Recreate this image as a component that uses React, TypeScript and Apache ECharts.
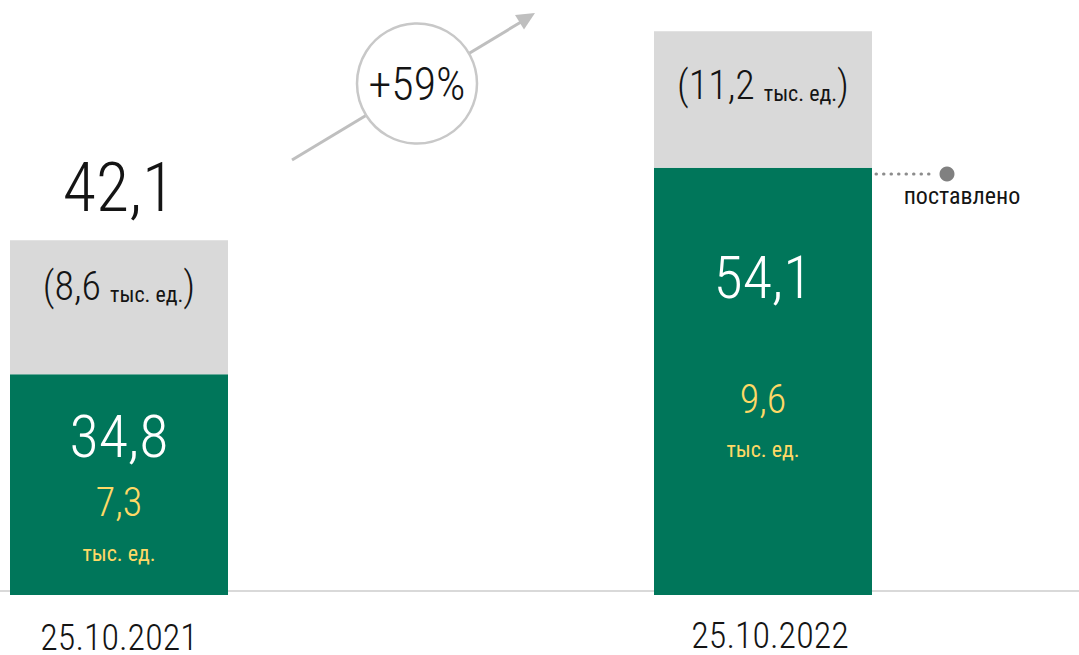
import React, { useEffect, useRef } from 'react';
import * as echarts from 'echarts';

// ---- data ----
const categories = ['25.10.2021', '25.10.2022'];
// visual bar heights (billions) – green = delivered part, gray = rest of the total
const deliveredHeight = [26.2, 50.7];
const remainingHeight = [15.9, 16.2];
// printed labels
const deliveredAmount = ['34,8', '54,1'];
const deliveredUnits = ['7,3', '9,6'];
const totalUnits = ['8,6', '11,2'];
const totalAmount = ['42,1', ''];
const growthLabel = '+59%';
const deliveredName = 'поставлено';
const unitText = 'тыс. ед.';

// ---- styles ----
const FONT = "'Roboto Condensed', 'Liberation Sans Narrow', 'DejaVu Sans Condensed', Roboto, sans-serif";
const GREEN = '#00765A';
const GRAY = '#D9D9D9';
const YELLOW = '#FFD966';
const INK = '#141414';

const greenLayout = [
  { y: 27, l1: 70, l2: 62, l3: 40 },
  { y: 18, l1: 184, l2: 60, l3: 40 },
];
const grayLayout = [
  { y: -92, l1: 80, l2: 116, va: 'top' },
  { y: 54, l1: 0, l2: 60, va: 'middle' },
];

export default function App() {
  const ref = useRef<HTMLDivElement>(null);
  useEffect(() => {
    if (!ref.current) return;
    const chart = echarts.init(ref.current, null, { renderer: 'svg' });

    const greenData = deliveredHeight.map((v, i) => {
      const L = greenLayout[i];
      return {
        value: v,
        label: {
          show: true,
          position: ['50%', L.y],
          align: 'center',
          verticalAlign: 'top',
          formatter: `{a|${deliveredAmount[i]}}\n{b|${deliveredUnits[i]}}\n{c|${unitText}}`,
          rich: {
            a: { fontFamily: FONT, fontWeight: 300, fontSize: 60, color: '#FFFFFF', lineHeight: L.l1, align: 'center', verticalAlign: 'middle' },
            b: { fontFamily: FONT, fontWeight: 300, fontSize: 40, color: YELLOW, lineHeight: L.l2, align: 'center', verticalAlign: 'middle' },
            c: { fontFamily: FONT, fontWeight: 400, fontSize: 22, color: YELLOW, lineHeight: L.l3, align: 'center', verticalAlign: 'middle' },
          },
        },
      };
    });

    const grayData = remainingHeight.map((v, i) => {
      const L = grayLayout[i];
      const top = totalAmount[i] ? `{t|${totalAmount[i]}}\n` : '';
      return {
        value: v,
        label: {
          show: true,
          position: ['50%', L.y],
          align: 'center',
          verticalAlign: L.va,
          formatter: `${top}{p|(${totalUnits[i]} }{s|${unitText}}{p|)}`,
          rich: {
            t: { fontFamily: FONT, fontWeight: 300, fontSize: 68, color: INK, lineHeight: L.l1, verticalAlign: 'middle' },
            p: { fontFamily: FONT, fontWeight: 300, fontSize: 40, color: INK, lineHeight: L.l2, verticalAlign: 'middle' },
            s: { fontFamily: FONT, fontWeight: 400, fontSize: 22, color: INK, padding: [16, 0, 0, 0], verticalAlign: 'middle' },
          },
        },
      };
    });

    const arrowColor = '#BFBFBF';
    chart.setOption({
      animation: false,
      grid: { left: -203, right: -6, top: 0, bottom: 60, outerBoundsMode: 'none', containLabel: false },
      xAxis: {
        type: 'category',
        data: categories,
        offset: -4,
        axisLine: { lineStyle: { color: GRAY, width: 2 } },
        axisTick: { show: false },
        axisLabel: {
          margin: 32,
          formatter: (v: string, i: number) => (i === 1 ? `{b|${v}}` : `{a|${v}}`),
          rich: {
            a: { fontFamily: FONT, fontWeight: 300, fontSize: 36, color: INK, lineHeight: 30 },
            b: { fontFamily: FONT, fontWeight: 300, fontSize: 36, color: INK, lineHeight: 30, padding: [0, 0, 4, 14] },
          },
        },
      },
      yAxis: { type: 'value', min: 0, max: 70.6, show: false, splitLine: { show: false } },
      series: [
        {
          name: deliveredName,
          type: 'bar',
          stack: 'total',
          barWidth: 218,
          itemStyle: { color: GREEN },
          data: greenData,
        },
        {
          name: 'остаток',
          type: 'bar',
          stack: 'total',
          barWidth: 218,
          itemStyle: { color: GRAY },
          data: grayData,
        },
      ],
      graphic: [
        { type: 'line', z: 10, shape: { x1: 292, y1: 160, x2: 521, y2: 22 }, style: { stroke: arrowColor, lineWidth: 3 } },
        { type: 'polygon', z: 10, shape: { points: [[535, 13], [524, 29.5], [515, 15]] }, style: { fill: arrowColor } },
        { type: 'circle', z: 11, shape: { cx: 417, cy: 83.5, r: 60 }, style: { fill: '#FFFFFF', stroke: '#C8C8C8', lineWidth: 2.5 } },
        {
          type: 'text', z: 12, x: 417, y: 84,
          style: {
            text: growthLabel, fontFamily: FONT, fontWeight: 300, fontSize: 46, fill: INK,
            align: 'center', verticalAlign: 'middle', textAlign: 'center', textVerticalAlign: 'middle',
          },
        },
        { type: 'line', z: 10, shape: { x1: 876, y1: 174, x2: 936, y2: 174 }, style: { stroke: '#8C8C8C', lineWidth: 3, lineDash: [0.5, 7], lineCap: 'round' } },
        { type: 'circle', z: 10, shape: { cx: 947, cy: 174, r: 7.5 }, style: { fill: '#808080' } },
        {
          type: 'text', z: 10, x: 962, y: 196,
          style: {
            text: deliveredName, fontFamily: FONT, fontWeight: 400, fontSize: 24, fill: INK,
            align: 'center', verticalAlign: 'middle', textAlign: 'center', textVerticalAlign: 'middle',
          },
        },
      ],
    });
    return () => chart.dispose();
  }, []);
  return (
    <div
      ref={ref}
      style={{ position: 'absolute', left: 0, top: 0, width: 1079, height: 655, background: '#FFFFFF' }}
    />
  );
}
